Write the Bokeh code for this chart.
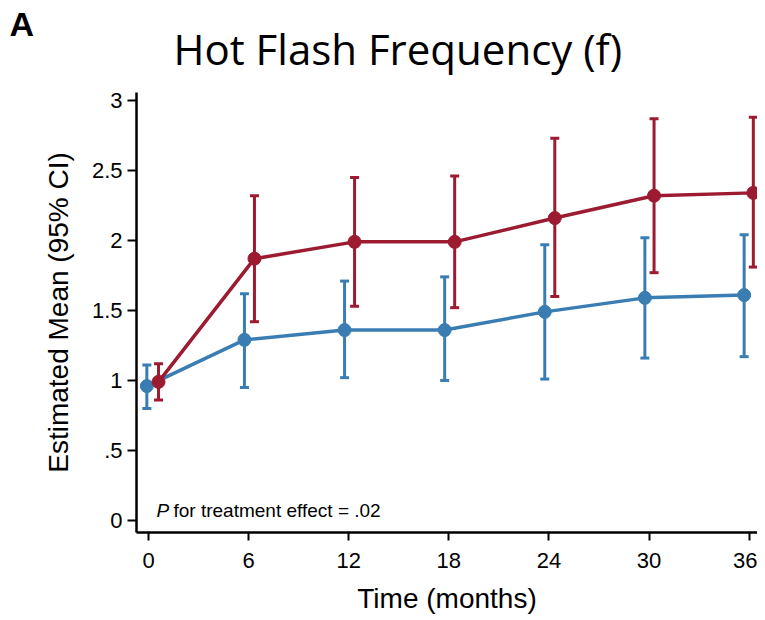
from bokeh.plotting import figure
from bokeh.layouts import column
from bokeh.models import ColumnDataSource, FixedTicker, Label, Range1d
from bokeh.embed import file_html
from bokeh.resources import INLINE

# ---- data ----
months = [0, 6, 12, 18, 24, 30, 36]
blue_x = [-0.1, 5.75, 11.75, 17.75, 23.75, 29.75, 35.7]
blue_mean = [0.96, 1.29, 1.36, 1.36, 1.49, 1.59, 1.61]
blue_lo = [0.80, 0.95, 1.02, 1.00, 1.01, 1.16, 1.17]
blue_hi = [1.11, 1.62, 1.71, 1.74, 1.97, 2.02, 2.04]
red_x = [0.6, 6.35, 12.35, 18.35, 24.35, 30.3, 36.25]
red_mean = [0.99, 1.87, 1.99, 1.99, 2.16, 2.32, 2.34]
red_lo = [0.86, 1.42, 1.53, 1.52, 1.60, 1.77, 1.81]
red_hi = [1.12, 2.32, 2.45, 2.46, 2.73, 2.87, 2.88]
y_ticks = [0, 0.5, 1, 1.5, 2, 2.5, 3]
y_tick_labels = ["0", ".5", "1", "1.5", "2", "2.5", "3"]

BLUE = "#3A7DB3"
RED = "#9C1B31"
AXFONT = "Liberation Sans"

# ---- header (panel letter + title) ----
head = figure(frame_width=757, frame_height=80, min_border=0,
              x_range=Range1d(0, 1), y_range=Range1d(0, 1),
              x_axis_location=None, y_axis_location=None,
              title_location=None, frame_align=False,
              output_backend="svg", toolbar_location=None)
head.outline_line_color = None
head.grid.visible = False
head.add_layout(Label(x=9, y=57, x_units="screen", y_units="screen",
                      text="A", text_font="Liberation Sans",
                      text_font_style="bold", text_font_size="34px",
                      text_color="black", text_baseline="alphabetic"))
head.add_layout(Label(x=173, y=32, x_units="screen", y_units="screen",
                      text="Hot Flash Frequency (f)", text_font="Open Sans",
                      text_font_size="42px", text_color="black",
                      text_baseline="alphabetic"))

# ---- main plot ----
p = figure(frame_width=621, frame_height=440,
           min_border_left=136, min_border_right=0,
           min_border_top=12, min_border_bottom=88,
           x_range=Range1d(-0.72, 36.5), y_range=Range1d(-0.086, 3.057),
           title_location=None, frame_align=False,
           output_backend="svg", toolbar_location=None)
p.outline_line_color = None
p.grid.visible = False

for ax in (p.xaxis[0], p.yaxis[0]):
    ax.axis_line_width = 2.5
    ax.axis_line_color = "black"
    ax.major_tick_line_width = 2
    ax.major_tick_line_color = "black"
    ax.major_tick_in = 0
    ax.minor_tick_line_color = None
    ax.major_label_text_font = AXFONT
    ax.major_label_text_font_size = "22px"
    ax.major_label_text_color = "black"
    ax.axis_label_text_font = AXFONT
    ax.axis_label_text_font_size = "28px"
    ax.axis_label_text_font_style = "normal"
    ax.axis_label_text_color = "black"

p.xaxis.ticker = FixedTicker(ticks=months)
p.xaxis.major_tick_out = 8
p.xaxis.major_label_standoff = 12
p.xaxis.axis_label = "Time (months)"
p.xaxis.axis_label_standoff = 12

p.yaxis.ticker = FixedTicker(ticks=y_ticks)
p.yaxis.major_label_overrides = {t: l for t, l in zip(y_ticks, y_tick_labels)}
p.yaxis.major_tick_out = 9
p.yaxis.major_label_standoff = 5
p.yaxis.major_label_orientation = "horizontal"
p.yaxis.axis_label = "Estimated Mean (95% CI)"
p.yaxis.axis_label_standoff = 15


def series(xs, mean, lo, hi, color):
    src = ColumnDataSource(dict(x=xs, m=mean, lo=lo, hi=hi))
    p.segment(x0="x", y0="lo", x1="x", y1="hi", source=src,
              line_color=color, line_width=3)
    p.scatter(x="x", y="hi", source=src, marker="dash", size=9,
              line_color=color, line_width=3)
    p.scatter(x="x", y="lo", source=src, marker="dash", size=9,
              line_color=color, line_width=3)
    p.line(x="x", y="m", source=src, line_color=color, line_width=3.5)
    p.scatter(x="x", y="m", source=src, marker="circle", size=13,
              fill_color=color, line_color=color)


series(blue_x, blue_mean, blue_lo, blue_hi, BLUE)
series(red_x, red_mean, red_lo, red_hi, RED)

p.add_layout(Label(x=20, y=22, x_units="screen", y_units="screen",
                   text="P", text_font=AXFONT, text_font_style="italic",
                   text_font_size="19px", text_color="black",
                   text_baseline="alphabetic"))
p.add_layout(Label(x=37, y=22, x_units="screen", y_units="screen",
                   text="for treatment effect = .02", text_font=AXFONT,
                   text_font_size="19px", text_color="black",
                   text_baseline="alphabetic"))

layout = column(head, p, spacing=0)
open("out.html", "w").write(file_html(layout, INLINE))
